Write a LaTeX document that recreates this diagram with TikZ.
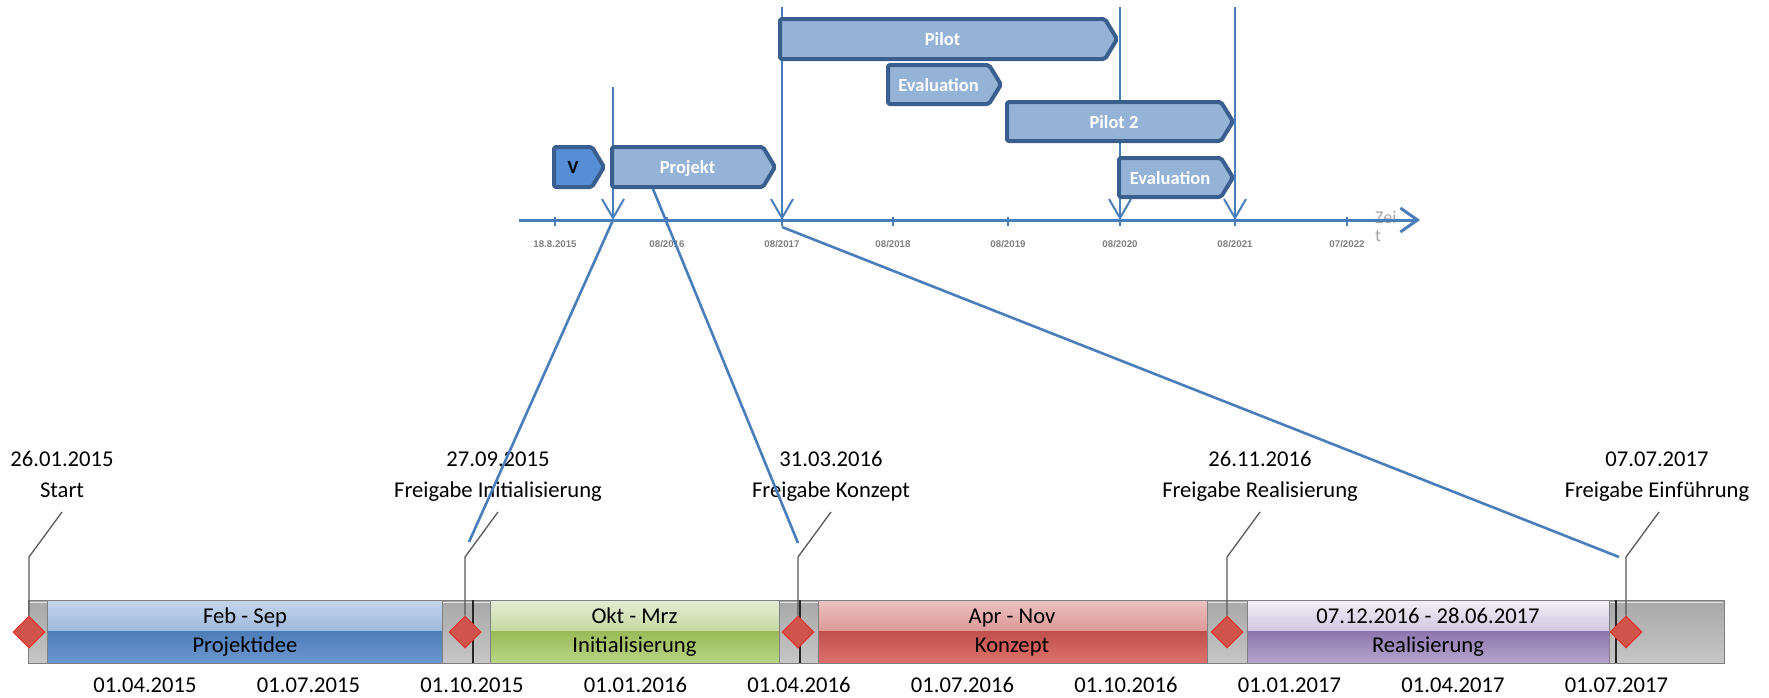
\documentclass[tikz,border=0pt]{standalone}
\usepackage{fontspec}
\setmainfont{Carlito}
\newfontfamily\tickfont{Liberation Sans}
\usetikzlibrary{arrows.meta,shapes.geometric}

\definecolor{lineblue}{HTML}{4A7EBB}
\definecolor{barborder}{HTML}{3A5F8F}
\definecolor{barfill}{HTML}{95B3D7}
\definecolor{vfill}{HTML}{558ED5}
\definecolor{msfill}{HTML}{D0534C}
\definecolor{msdraw}{HTML}{E5332B}
\definecolor{leadgray}{HTML}{595959}
\definecolor{tickgray}{HTML}{808080}
\definecolor{zeitgray}{HTML}{A6A6A6}
\definecolor{segline}{HTML}{7F7F7F}
\definecolor{greyA}{HTML}{A8A8A8}
\definecolor{greyB}{HTML}{C6C6C6}
\definecolor{blueA}{HTML}{C6D6EB}
\definecolor{blueB}{HTML}{9DB8DC}
\definecolor{blueC}{HTML}{4E7DB8}
\definecolor{blueD}{HTML}{6C98CF}
\definecolor{greenA}{HTML}{E4EDD6}
\definecolor{greenB}{HTML}{C4D89E}
\definecolor{greenC}{HTML}{9BBB59}
\definecolor{greenD}{HTML}{B8D585}
\definecolor{redA}{HTML}{EBC2C1}
\definecolor{redB}{HTML}{DC9896}
\definecolor{redC}{HTML}{C0504D}
\definecolor{redD}{HTML}{DE716C}
\definecolor{purA}{HTML}{F3F0F8}
\definecolor{purB}{HTML}{D0C6E0}
\definecolor{purC}{HTML}{8E76AE}
\definecolor{purD}{HTML}{B5A5CD}

\newcommand\chevbar[7]{%
  \draw[chevbox,fill=#6] (#2,#4) -- ({#3-12},#4) -- (#3,{(#4+#5)/2}) -- ({#3-12},#5) -- (#2,#5) -- cycle;
  \node[chevtext] (#1) at ({(#2+#3-12)/2},{(#4+#5)/2+6.5}) {#7};}

\newcommand\phaseseg[3]{%
  \shade[top color=#3A,bottom color=#3B] (#1,600) rectangle (#2,631.5);
  \shade[top color=#3C,bottom color=#3D] (#1,631.5) rectangle (#2,663);
  \draw[segdraw] (#1,600) rectangle (#2,663);}

\begin{document}
\begin{tikzpicture}[x=1pt,y=-1pt,
  chevbox/.style={draw=barborder,line width=4pt,rounded corners=2pt,line join=round},
  chevtext/.style={text=white,font=\fontsize{18.5}{22}\selectfont\bfseries,inner sep=0,anchor=base},
  vline/.style={draw=lineblue,line width=2pt,-{Straight Barb[length=19pt,width=22pt,line width=2pt]}},
  axisline/.style={draw=lineblue,line width=3pt,-{Straight Barb[length=17pt,width=24pt,line width=3pt]}},
  tickmark/.style={draw=lineblue,line width=2.5pt},
  ticklbl/.style={font=\tickfont\bfseries\fontsize{9.7}{11}\selectfont,text=tickgray,inner sep=0,anchor=base},
  zeitlbl/.style={font=\fontsize{18}{20}\selectfont,text=zeitgray,inner sep=0,anchor=base west},
  conn/.style={draw=lineblue,line width=2.6pt},
  segdraw/.style={draw=segline,line width=1pt},
  darkline/.style={draw=black!85,line width=1.5pt},
  ms/.style={diamond,minimum width=32pt,minimum height=32pt,inner sep=0,fill=msfill,draw=msdraw,line width=1pt},
  leader/.style={draw=leadgray,line width=1.3pt},
  lbl/.style={font=\fontsize{22.6}{26}\selectfont,text=black,inner sep=0,anchor=base}
]
\useasboundingbox (0,0) rectangle (1769,697);

% ---------- top timeline ----------
\coordinate (ax0) at (519,220);
\coordinate (ax1) at (1420,220);
\coordinate (v1a) at (613,87);   \coordinate (v1b) at (613,220);
\coordinate (v2a) at (782,7);    \coordinate (v2b) at (782,220);
\coordinate (v3a) at (1120,7);   \coordinate (v3b) at (1120,220);
\coordinate (v4a) at (1235,7);   \coordinate (v4b) at (1235,220);

\draw[vline] (v1a) -- (v1b);
\draw[vline] (v2a) -- (v2b);
\draw[vline] (v3a) -- (v3b);
\draw[vline] (v4a) -- (v4b);

% zeit label (behind axis)
\node[zeitlbl] (zei) at (1375,223) {Zei};
\node[zeitlbl] (zt) at (1375,241) {t};

\draw[axisline] (ax0) -- (ax1);

\foreach \x/\t [count=\i] in {555/18.8.2015,667/08\slash 2016,782/08\slash 2017,893/08\slash 2018,1008/08\slash 2019,1120/08\slash 2020,1235/08\slash 2021,1347/07\slash 2022}{
  \draw[tickmark] (\x,216.5) -- (\x,226);
  \node[ticklbl] (tl\i) at (\x,247.5) {\t};
}

% chevron bars
\chevbar{pilot}{780}{1117}{19}{59}{barfill}{Pilot}
\chevbar{evalA}{888}{1001}{65}{104}{barfill}{Evaluation}
\chevbar{pilotB}{1007}{1233}{102}{141}{barfill}{Pilot 2}
\chevbar{evalB}{1119}{1233}{158}{197}{barfill}{Evaluation}
\chevbar{vbar}{554}{604}{147}{187}{vfill}{\color{black}V}
\chevbar{projekt}{612}{775}{147}{187}{barfill}{Projekt}

% ---------- bottom phase bar ----------
\shade[top color=greyA,bottom color=greyB] (28,600) rectangle (1724,663);
\draw[white!80!gray,line width=1pt] (29,602) -- (1723,602);
\phaseseg{47}{442}{blue}
\phaseseg{490}{779}{green}
\phaseseg{818}{1207}{red}
\phaseseg{1247}{1609}{pur}
\draw[segdraw] (28,600) rectangle (1724,663);
\draw[segdraw] (47,600) -- (47,663);
\draw[darkline] (473,600) -- (473,663);
\draw[darkline] (800,600) -- (800,663);
\draw[darkline] (1616,600) -- (1616,663);

% phase texts
\node[lbl] (ph1a) at (245,623) {Feb - Sep};
\node[lbl] (ph1b) at (245,652) {Projektidee};
\node[lbl] (ph2a) at (634.5,623) {Okt - Mrz};
\node[lbl] (ph2b) at (634.5,652) {Initialisierung};
\node[lbl] (ph3a) at (1012,623) {Apr - Nov};
\node[lbl] (ph3b) at (1012,652) {Konzept};
\node[lbl] (ph4a) at (1428,623) {07.12.2016 - 28.06.2017};
\node[lbl] (ph4b) at (1428,652) {Realisierung};

% milestone labels
\node[lbl] (d1) at (62,466.5) {26.01.2015};
\node[lbl] (n1) at (62,497) {Start};
\node[lbl] (d2) at (498,466.5) {27.09.2015};
\node[lbl] (n2) at (498,497) {Freigabe Initialisierung};
\node[lbl] (d3) at (831,466.5) {31.03.2016};
\node[lbl] (n3) at (831,497) {Freigabe Konzept};
\node[lbl] (d4) at (1260,466.5) {26.11.2016};
\node[lbl] (n4) at (1260,497) {Freigabe Realisierung};
\node[lbl] (d5) at (1657,466.5) {07.07.2017};
\node[lbl] (n5) at (1657,497) {Freigabe Einführung};

% leader lines + milestones
\foreach \x [count=\i] in {29,465,798,1227,1626}{
  \coordinate (lt\i) at ({\x+33},512);
  \coordinate (lk\i) at (\x,557);
  \node[ms] (m\i) at (\x,632) {};
  \draw[leader] (m\i.north) -- (lk\i) -- (lt\i);
}

% bottom dates
\foreach \t [count=\i from 0] in {01.04.2015,01.07.2015,01.10.2015,01.01.2016,01.04.2016,01.07.2016,01.10.2016,01.01.2017,01.04.2017,01.07.2017}{
  \node[lbl] (bd\i) at ({145+163.5*\i},692) {\t};
}

% connecting lines
\coordinate (c1a) at (613,220);  \coordinate (c1b) at (469,542);
\coordinate (c2a) at (653,189);  \coordinate (c2b) at (798,543);
\coordinate (c3a) at (782,227);  \coordinate (c3b) at (1619,557);
\draw[conn] (c1a) -- (c1b);
\draw[conn] (c2a) -- (c2b);
\draw[conn] (c3a) -- (c3b);
\end{tikzpicture}
\end{document}
